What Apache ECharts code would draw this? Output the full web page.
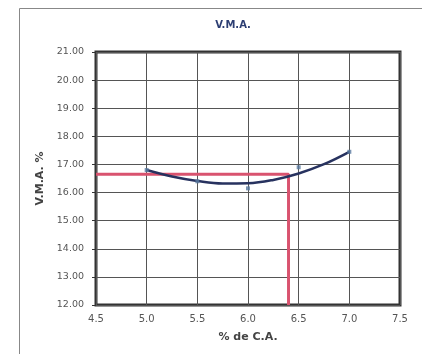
<!DOCTYPE html>
<html><head><meta charset="utf-8">
<script src="https://cdn.jsdelivr.net/npm/echarts@6/dist/echarts.min.js"></script>
<style>html,body{margin:0;padding:0;background:#fff;}#c{width:422px;height:354px;}</style>
</head><body><div id="c"></div>
<script>
// Measured points (% asphalt content vs VMA %)
const pointX = [5.0, 5.5, 6.0, 6.5, 7.0];
const pointY = [16.80, 16.40, 16.15, 16.90, 17.45];
// Trend curve
const trendX = [5.0, 5.25, 5.5, 5.75, 6.0, 6.25, 6.5, 6.75, 7.0];
const trendY = [16.80, 16.57, 16.41, 16.32, 16.33, 16.45, 16.68, 17.01, 17.45];
// Design reading (red guide lines)
const designX = 6.4;
const designY = 16.65;
const xMin = 4.5, xMax = 7.5, yMin = 12, yMax = 21;

const FONT = 'DejaVu Sans';
const chart = echarts.init(document.getElementById('c'), null, {renderer: 'canvas'});
const textCol = '#555';
chart.setOption({
  backgroundColor: '#fff',
  animation: false,
  graphic: [{
    type: 'rect', shape: {x: 19.5, y: 8.5, width: 520, height: 520},
    style: {fill: 'none', stroke: '#888', lineWidth: 1}, z: -10
  }],
  title: {
    text: 'V.M.A.', left: 228, top: 15, textAlign: 'center',
    textStyle: {fontSize: 10, fontWeight: 'bold', color: '#2c3e73', fontFamily: FONT}
  },
  grid: {left: 96, right: 22, top: 52, bottom: 49, show: true, borderColor: '#333', borderWidth: 3, backgroundColor: 'transparent'},
  xAxis: {
    type: 'value', min: xMin, max: xMax, interval: 0.5,
    name: '% de C.A.', nameLocation: 'middle', nameGap: 27,
    nameTextStyle: {fontSize: 11, fontWeight: 'bold', color: '#444', fontFamily: FONT},
    axisLine: {show: false}, axisTick: {show: false},
    axisLabel: {fontSize: 10, color: textCol, margin: 9, fontFamily: FONT, formatter: v => v.toFixed(1)},
    splitLine: {show: true, lineStyle: {color: '#555', width: 1}}
  },
  yAxis: {
    type: 'value', min: yMin, max: yMax, interval: 1,
    name: 'V.M.A. %', nameLocation: 'middle', nameGap: 50, nameRotate: 90,
    nameTextStyle: {fontSize: 11, fontWeight: 'bold', color: '#444', fontFamily: FONT},
    axisLine: {show: false}, axisTick: {show: true, length: 4, lineStyle: {color: '#333'}},
    axisLabel: {fontSize: 9.5, color: textCol, margin: 12, fontFamily: FONT, formatter: v => v.toFixed(2)},
    splitLine: {show: true, lineStyle: {color: '#555', width: 1}}
  },
  series: [
    {
      type: 'line', data: [[xMin, designY], [designX, designY], [designX, yMin]],
      symbol: 'none', lineStyle: {color: '#d9536f', width: 3}, z: 2
    },
    {
      type: 'line', data: trendX.map((x, i) => [x, trendY[i]]), smooth: 0.4,
      symbol: 'none', lineStyle: {color: '#27325f', width: 2.5}, z: 3
    },
    {
      type: 'scatter', data: pointX.map((x, i) => [x, pointY[i]]),
      symbol: 'rect', symbolSize: 4, itemStyle: {color: '#5a7aa0'}, z: 4
    }
  ]
});
</script></body></html>
